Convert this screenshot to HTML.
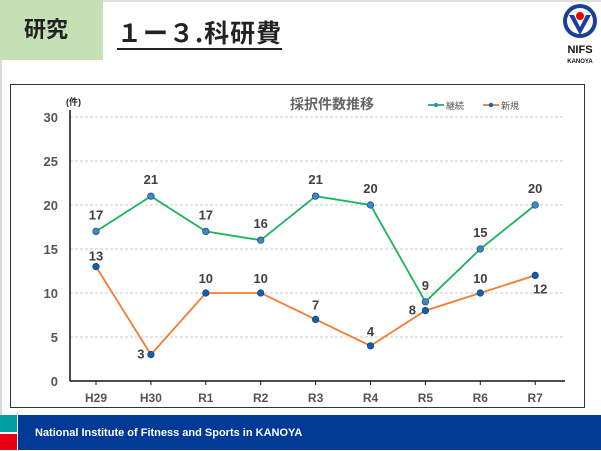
<!DOCTYPE html>
<html><head><meta charset="utf-8"><style>
body{margin:0;width:601px;height:450px;overflow:hidden;background:#fff;font-family:"Liberation Sans","Noto Sans CJK JP",sans-serif;position:relative}
</style></head><body>
<div style="position:absolute;left:0;top:60px;width:2px;height:355px;background:#d9d9d9"></div>
<div style="position:absolute;left:103px;top:0;width:498px;height:2px;background:#e0e0e0"></div>
<div style="position:absolute;left:0;top:0;width:103px;height:60px;background:#c5e0b4;font:bold 22px 'Noto Sans CJK JP',sans-serif;color:#222;line-height:56px;text-indent:24px">研究</div>
<div style="position:absolute;left:117px;top:16px;font:bold 25px 'Noto Sans CJK JP',sans-serif;color:#222;border-bottom:2px solid #222;line-height:32px;letter-spacing:1px">１ー３.科研費</div>
<svg style="position:absolute;left:560px;top:3px" width="40" height="62">
<circle cx="20" cy="18" r="17" fill="#1a3f9a"/><circle cx="20" cy="18" r="13" fill="#fff"/>
<path d="M9 12 L20 32 L31 12 L26 12 L20 24 L14 12Z" fill="#1a3f9a"/><circle cx="20" cy="13" r="4" fill="#e00"/>
<text x="20" y="50" text-anchor="middle" font-size="11" font-weight="bold" fill="#111">NIFS</text>
<text x="20" y="60" text-anchor="middle" font-size="6" font-weight="bold" fill="#111">KANOYA</text>
</svg>
<svg id="chart" style="position:absolute;left:0;top:0" width="601" height="450"></svg>
<div style="position:absolute;left:0;top:415px;width:17px;height:17px;background:#00a0a0"></div>
<div style="position:absolute;left:0;top:434px;width:17px;height:16px;background:#e60012"></div>
<div style="position:absolute;left:18px;top:415px;width:583px;height:35px;background:#003a96;color:#fff;font:bold 11px 'Liberation Sans',sans-serif;line-height:36px;text-indent:17px">National Institute of Fitness and Sports in KANOYA</div>
<script>
const categories=["H29","H30","R1","R2","R3","R4","R5","R6","R7"];
const keizoku=[17,21,17,16,21,20,9,15,20];
const shinki=[13,3,10,10,7,4,8,10,12];
const yTicks=[0,5,10,15,20,25,30];
const svg=document.getElementById('chart');
const NS='http://www.w3.org/2000/svg';
function el(t,a,p){const e=document.createElementNS(NS,t);for(const k in a)e.setAttribute(k,a[k]);(p||svg).appendChild(e);return e;}
const x0=96,dx=54.9,y0=381,ky=8.8;
const X=i=>x0+i*dx, Y=v=>y0-v*ky;
let f=el('rect',{x:10.5,y:84.5,width:574,height:323,fill:'none',stroke:'#333','stroke-width':1});

yTicks.forEach(v=>{
 if(v>0){let g=el('line',{x1:70,x2:565,y1:Y(v),y2:Y(v),stroke:'#bbb','stroke-dasharray':'3,2','stroke-width':0.8});
 }
 let t=el('text',{x:58,y:Y(v)+5,'text-anchor':'end','font-size':13,'font-weight':'bold',fill:'#555'});t.textContent=v;
 
});
let ya=el('line',{x1:70,x2:70,y1:110,y2:381,stroke:'#111','stroke-width':1.5});

let xa=el('line',{x1:70,x2:565,y1:381,y2:381,stroke:'#111','stroke-width':1.5});

let u=el('text',{x:66,y:105,'font-size':9,'font-weight':'bold',fill:'#222'});u.textContent='(件)';

categories.forEach((c,i)=>{
 let tk=el('line',{x1:X(i),x2:X(i),y1:381,y2:385,stroke:'#111'});
 
 let t=el('text',{x:X(i),y:402,'text-anchor':'middle','font-size':12,'font-weight':'bold',fill:'#555'});t.textContent=c;
 
});
let ti=el('text',{x:332,y:109,'text-anchor':'middle','font-size':14,'font-weight':'bold',fill:'#666'});ti.textContent='採択件数推移';

function series(vals,color,mk,name,offs){
 let p=el('polyline',{points:vals.map((v,i)=>X(i)+','+Y(v)).join(' '),fill:'none',stroke:color,'stroke-width':1.8});
 
 vals.forEach((v,i)=>{
  let c=el('circle',{cx:X(i),cy:Y(v),r:3.3,fill:mk,stroke:'#0a3a70','stroke-width':0.6});
  
  const o=offs[i];
  let t=el('text',{x:X(i)+o[0],y:Y(v)+o[1],'text-anchor':'middle','font-size':13,'font-weight':'bold',fill:'#404040'});t.textContent=v;
  
 });
}
series(keizoku,'#1db35a','#3f88c5','keizoku',[[0,-12],[0,-12],[0,-12],[0,-12],[0,-12],[0,-12],[0,-12],[0,-12],[0,-12]]);
series(shinki,'#f47b30','#1060b0','shinki',[[0,-6],[-10,4],[0,-10],[0,-10],[0,-10],[0,-10],[-13,4],[0,-10],[5,18]]);
[[428,'#1db35a','#3f88c5','継続','legend-keizoku'],[483,'#f47b30','#1060b0','新規','legend-shinki']].forEach(l=>{
 let g=el('g',{});
 el('line',{x1:l[0],x2:l[0]+16,y1:105,y2:105,stroke:l[1],'stroke-width':1.8},g);
 el('circle',{cx:l[0]+8,cy:105,r:2.2,fill:l[2]},g);
 let t=el('text',{x:l[0]+18,y:109,'font-size':9,fill:'#555'},g);t.textContent=l[3];
});
</script>
</body></html>
